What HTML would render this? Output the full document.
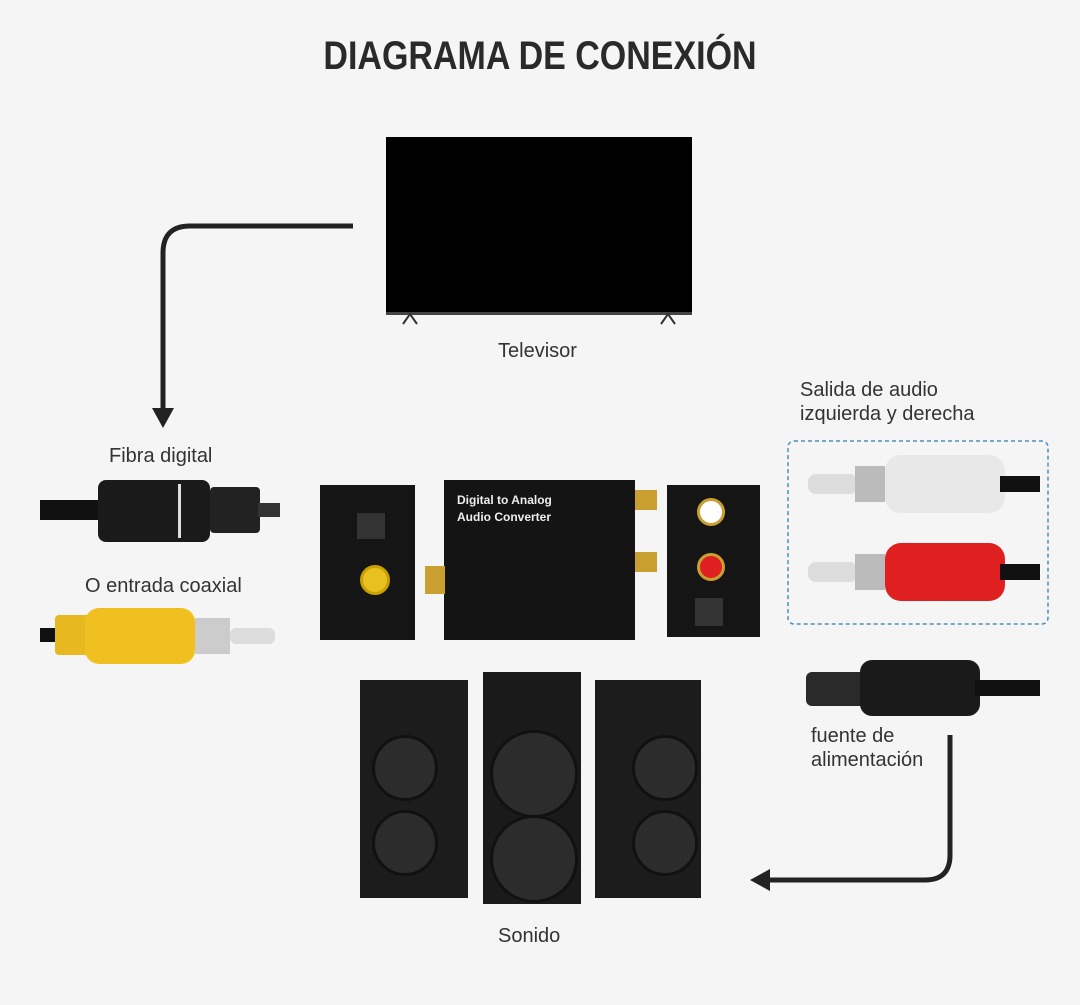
<!DOCTYPE html>
<html><head><meta charset="utf-8"><style>
html,body{margin:0;padding:0}
body{width:1080px;height:1005px;background:#f5f5f5;position:relative;overflow:hidden;font-family:"Liberation Sans",sans-serif;color:#222}
.a{position:absolute}
.t{position:absolute;font-size:20px;color:#333;white-space:nowrap}
</style></head><body>
<div class="a" style="left:0;top:34px;width:1080px;text-align:center;font-size:40px;font-weight:bold;letter-spacing:0px;color:#2a2a2a;transform:scaleX(0.85)">DIAGRAMA DE CONEXIÓN</div>

<!-- TV -->
<div class="a" style="left:386px;top:137px;width:306px;height:175px;background:#000;border-bottom:3px solid #444"></div>
<svg class="a" style="left:0;top:0" width="1080" height="1005">
<polyline points="403,324 410,314 417,324" fill="none" stroke="#333" stroke-width="2"/>
<polyline points="661,324 668,314 675,324" fill="none" stroke="#333" stroke-width="2"/>
<!-- arrow left -->
<path d="M353,226 H190 Q163,226 163,253 V412" fill="none" stroke="#222" stroke-width="5"/>
<polygon points="152,408 174,408 163,428" fill="#222"/>
<!-- arrow right -->
<path d="M950,735 V855 Q950,880 925,880 H768" fill="none" stroke="#222" stroke-width="5"/>
<polygon points="770,869 770,891 750,880" fill="#222"/>
<!-- dashed box -->
<rect x="788" y="441" width="260" height="183" rx="6" fill="none" stroke="#4a90b8" stroke-width="1.5" stroke-dasharray="4,3"/>
<!-- fibra cable -->
<rect x="40" y="500" width="70" height="20" fill="#111"/>
<rect x="98" y="480" width="112" height="62" rx="8" fill="#1a1a1a"/>
<rect x="178" y="484" width="3" height="54" fill="#ddd"/>
<rect x="210" y="487" width="50" height="46" rx="4" fill="#222"/>
<rect x="258" y="503" width="22" height="14" fill="#333"/>
<!-- coax -->
<rect x="40" y="628" width="60" height="14" fill="#111"/>
<rect x="55" y="615" width="45" height="40" rx="4" fill="#e8b820"/>
<rect x="85" y="608" width="110" height="56" rx="14" fill="#f0c020"/>
<rect x="195" y="618" width="35" height="36" fill="#ccc"/>
<rect x="230" y="628" width="45" height="16" rx="6" fill="#ddd"/>
<!-- white RCA -->
<rect x="808" y="474" width="50" height="20" rx="8" fill="#ddd"/>
<rect x="855" y="466" width="30" height="36" fill="#bbb"/>
<rect x="885" y="455" width="120" height="58" rx="16" fill="#e8e8e8"/>
<rect x="1000" y="476" width="40" height="16" fill="#111"/>
<!-- red RCA -->
<rect x="808" y="562" width="50" height="20" rx="8" fill="#ddd"/>
<rect x="855" y="554" width="30" height="36" fill="#bbb"/>
<rect x="885" y="543" width="120" height="58" rx="16" fill="#e02020"/>
<rect x="1000" y="564" width="40" height="16" fill="#111"/>
<!-- power plug -->
<rect x="806" y="672" width="60" height="34" rx="6" fill="#2a2a2a"/>
<rect x="860" y="660" width="120" height="56" rx="12" fill="#1a1a1a"/>
<rect x="975" y="680" width="65" height="16" fill="#111"/>
</svg>

<!-- converter -->
<div class="a" style="left:320px;top:485px;width:95px;height:155px;background:#151515"></div>
<div class="a" style="left:360px;top:565px;width:24px;height:24px;border-radius:50%;background:#e8c020;border:3px solid #c9a000"></div>
<div class="a" style="left:357px;top:513px;width:28px;height:26px;background:#333"></div>
<div class="a" style="left:444px;top:480px;width:191px;height:160px;background:#141414"></div>
<div class="a" style="left:457px;top:492px;color:#eee;font-size:12px;font-weight:bold;line-height:17px">Digital to Analog<br>Audio Converter</div>
<div class="a" style="left:425px;top:566px;width:20px;height:28px;background:#c9a030"></div>
<div class="a" style="left:635px;top:490px;width:22px;height:20px;background:#c9a030"></div>
<div class="a" style="left:635px;top:552px;width:22px;height:20px;background:#c9a030"></div>
<div class="a" style="left:667px;top:485px;width:93px;height:152px;background:#151515"></div>
<div class="a" style="left:697px;top:498px;width:22px;height:22px;border-radius:50%;background:#fff;border:3px solid #c9a030"></div>
<div class="a" style="left:697px;top:553px;width:22px;height:22px;border-radius:50%;background:#e02020;border:3px solid #c9a030"></div>
<div class="a" style="left:695px;top:598px;width:28px;height:28px;background:#333"></div>

<!-- speakers -->
<div class="a" style="left:360px;top:680px;width:108px;height:218px;background:#1c1c1c"></div>
<div class="a" style="left:483px;top:672px;width:98px;height:232px;background:#1a1a1a"></div>
<div class="a" style="left:595px;top:680px;width:106px;height:218px;background:#1c1c1c"></div>
<div class="a" style="left:372px;top:735px;width:60px;height:60px;border-radius:50%;background:#2c2c2c;border:3px solid #111"></div>
<div class="a" style="left:372px;top:810px;width:60px;height:60px;border-radius:50%;background:#2c2c2c;border:3px solid #111"></div>
<div class="a" style="left:490px;top:730px;width:82px;height:82px;border-radius:50%;background:#2c2c2c;border:3px solid #111"></div>
<div class="a" style="left:490px;top:815px;width:82px;height:82px;border-radius:50%;background:#2c2c2c;border:3px solid #111"></div>
<div class="a" style="left:632px;top:735px;width:60px;height:60px;border-radius:50%;background:#2c2c2c;border:3px solid #111"></div>
<div class="a" style="left:632px;top:810px;width:60px;height:60px;border-radius:50%;background:#2c2c2c;border:3px solid #111"></div>

<div class="t" style="left:498px;top:340px">Televisor</div>
<div class="t" style="left:109px;top:445px">Fibra digital</div>
<div class="t" style="left:85px;top:575px">O entrada coaxial</div>
<div class="t" style="left:800px;top:378px;line-height:24px">Salida de audio<br>izquierda y derecha</div>
<div class="t" style="left:811px;top:724px;line-height:24px">fuente de<br>alimentación</div>
<div class="t" style="left:498px;top:925px">Sonido</div>
</body></html>
